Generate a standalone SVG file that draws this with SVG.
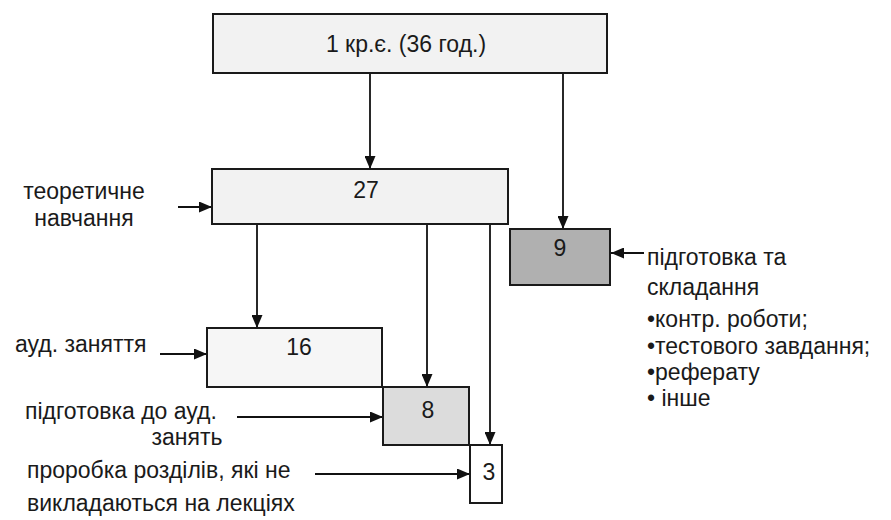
<svg xmlns="http://www.w3.org/2000/svg" width="891" height="520" viewBox="0 0 891 520">
<defs>
<marker id="ah" viewBox="0 0 13 11" refX="13" refY="5.5" markerWidth="13" markerHeight="11" markerUnits="userSpaceOnUse" orient="auto">
<path d="M0,0 L13,5.5 L0,11 Z" fill="#111"/>
</marker>
</defs>
<style>
.box{stroke:#1a1a1a;stroke-width:2}
.t{font-family:"Liberation Sans",Arial,sans-serif;font-size:23px;fill:#1a1a1a}
.m{text-anchor:middle}
.c{stroke:#111;stroke-width:1.8;fill:none;marker-end:url(#ah)}
</style>
<rect width="891" height="520" fill="#ffffff"/>
<g id="connectors">
<line class="c" x1="370" y1="73" x2="370" y2="169"/>
<line class="c" x1="563" y1="73" x2="563" y2="229"/>
<line class="c" x1="257" y1="224" x2="257" y2="328"/>
<line class="c" x1="427" y1="224" x2="427" y2="387"/>
<line class="c" x1="490" y1="224" x2="490" y2="445"/>
<line class="c" x1="178" y1="207" x2="212" y2="207"/>
<line class="c" x1="644" y1="253" x2="611" y2="253"/>
<line class="c" x1="160" y1="354" x2="207" y2="354"/>
<line class="c" x1="237" y1="417" x2="383" y2="417"/>
<line class="c" x1="315" y1="474" x2="470" y2="474"/>
</g>
<g id="node-total">
<rect class="box" x="213" y="14" width="394" height="59" fill="#f2f2f2"/>
<text class="t m" x="406" y="52">1 кр.є. (36 год.)</text>
</g>
<g id="node-27">
<rect class="box" x="212" y="169" width="296" height="55" fill="#f2f2f2"/>
<text class="t m" x="366" y="198">27</text>
<text class="t m" x="84" y="199">теоретичне</text>
<text class="t m" x="84" y="226">навчання</text>
</g>
<g id="node-9">
<rect class="box" x="510" y="229" width="100" height="56" fill="#b0b0b0"/>
<text class="t m" x="560" y="256">9</text>
<text class="t" x="647" y="265">підготовка та</text>
<text class="t" x="647" y="295">складання</text>
<text class="t" x="647" y="327">•контр. роботи;</text>
<text class="t" x="647" y="354">•тестового завдання;</text>
<text class="t" x="647" y="380">•реферату</text>
<text class="t" x="647" y="406">• інше</text>
</g>
<g id="node-16">
<rect class="box" x="207" y="328" width="175" height="59" fill="#f6f6f6"/>
<text class="t m" x="299" y="355">16</text>
<text class="t" x="15" y="352">ауд. заняття</text>
</g>
<g id="node-8">
<rect class="box" x="383" y="387" width="86" height="58" fill="#dcdcdc"/>
<text class="t m" x="428" y="418">8</text>
<text class="t" x="25" y="419">підготовка до ауд.</text>
<text class="t m" x="187" y="445">занять</text>
</g>
<g id="node-3">
<rect class="box" x="470" y="445" width="32" height="58" fill="#ffffff"/>
<text class="t m" x="489" y="480">3</text>
<text class="t" x="27" y="478">проробка розділів, які не</text>
<text class="t" x="27" y="511">викладаються на лекціях</text>
</g>
</svg>
